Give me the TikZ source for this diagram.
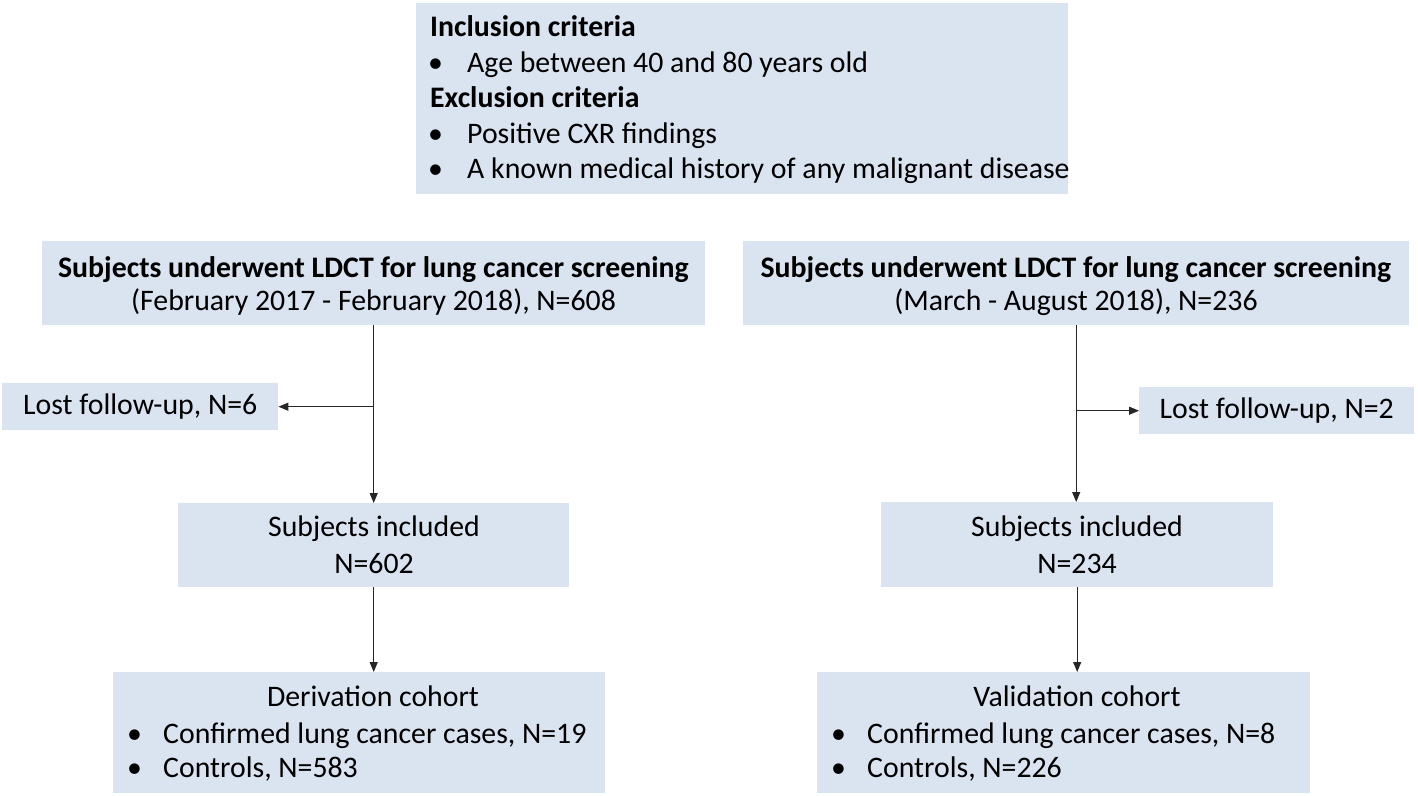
\documentclass[tikz,border=0pt]{standalone}
\usepackage{fontspec}
\setmainfont{Carlito}
\usetikzlibrary{arrows.meta}
\definecolor{boxfill}{HTML}{DAE3F0}
\definecolor{linecol}{HTML}{262626}
\begin{document}
\begin{tikzpicture}[x=1pt,y=-1pt,
  box/.style={fill=boxfill, draw=none, inner sep=0pt, anchor=north west},
  txt/.style={inner sep=0pt, font=\fontsize{29.8}{36}\selectfont},
  arr/.style={draw=linecol, line width=1.1pt, -{Triangle[length=10pt,width=8pt]}},
  ln/.style={draw=linecol, line width=1.1pt}]
\useasboundingbox (0,0) rectangle (1418,795);

% boxes
\node[box, minimum width=652, minimum height=191] (top) at (416,3) {};
\node[box, minimum width=663, minimum height=84] (ldctL) at (42,241) {};
\node[box, minimum width=666, minimum height=84] (ldctR) at (743,241) {};
\node[box, minimum width=276, minimum height=47] (lostL) at (2,383) {};
\node[box, minimum width=275, minimum height=47] (lostR) at (1139,387) {};
\node[box, minimum width=391, minimum height=84] (inclL) at (178,503) {};
\node[box, minimum width=392, minimum height=85] (inclR) at (881,502) {};
\node[box, minimum width=492, minimum height=121] (deriv) at (113,672) {};
\node[box, minimum width=493, minimum height=121] (valid) at (817,672) {};

% top box text
\node[txt, anchor=mid west] (t1) at (430,34) {\textbf{Inclusion criteria}};
\node[txt, anchor=mid west] (b1) at (428,70) {\textbullet};
\node[txt, anchor=mid west] (t2) at (467,70) {Age between 40 and 80 years old};
\node[txt, anchor=mid west] (t3) at (430,105) {\textbf{Exclusion criteria}};
\node[txt, anchor=mid west] (b2) at (428,141) {\textbullet};
\node[txt, anchor=mid west] (t4) at (467,141) {Positive CXR findings};
\node[txt, anchor=mid west] (b3) at (428,176) {\textbullet};
\node[txt, anchor=mid west] (t5) at (467,176) {A known medical history of any malignant disease};

% LDCT boxes
\node[txt, anchor=mid] (l1) at (373.5,275) {\textbf{Subjects underwent LDCT for lung cancer screening}};
\node[txt, anchor=mid] (l2) at (373.5,308) {(February 2017 - February 2018), N=608};
\node[txt, anchor=mid] (r1) at (1076,275) {\textbf{Subjects underwent LDCT for lung cancer screening}};
\node[txt, anchor=mid] (r2) at (1076,308) {(March - August 2018), N=236};

% lost
\node[txt, anchor=mid] (lt) at ([yshift=-5pt]lostL.center) {Lost follow-up, N=6};
\node[txt, anchor=mid] (rt) at ([yshift=-5pt]lostR.center) {Lost follow-up, N=2};

% included
\node[txt, anchor=mid] (i1) at (374,534) {Subjects included};
\node[txt, anchor=mid] (i2) at (374,571) {N=602};
\node[txt, anchor=mid] (j1) at (1077,534) {Subjects included};
\node[txt, anchor=mid] (j2) at (1077,571) {N=234};

% cohorts
\node[txt, anchor=mid] (d0) at (373,704) {Derivation cohort};
\node[txt, anchor=mid west] (db1) at (127,741) {\textbullet};
\node[txt, anchor=mid west] (d1) at (163,741) {Confirmed lung cancer cases, N=19};
\node[txt, anchor=mid west] (db2) at (127,775) {\textbullet};
\node[txt, anchor=mid west] (d2) at (163,775) {Controls, N=583};
\node[txt, anchor=mid] (v0) at (1077,704) {Validation cohort};
\node[txt, anchor=mid west] (vb1) at (831,741) {\textbullet};
\node[txt, anchor=mid west] (v1) at (867,741) {Confirmed lung cancer cases, N=8};
\node[txt, anchor=mid west] (vb2) at (831,775) {\textbullet};
\node[txt, anchor=mid west] (v2) at (867,775) {Controls, N=226};

% connectors
\draw[arr] (ldctL.south) -- (ldctL.south |- inclL.north);
\draw[arr] (ldctL.south |- lostL.east) -- (lostL.east);
\draw[arr] (ldctR.south) -- (ldctR.south |- inclR.north);
\draw[arr] (ldctR.south |- lostR.west) -- (lostR.west);
\draw[arr] (inclL.south) -- (inclL.south |- deriv.north);
\draw[arr] (inclR.south) -- (inclR.south |- valid.north);
\end{tikzpicture}
\end{document}
